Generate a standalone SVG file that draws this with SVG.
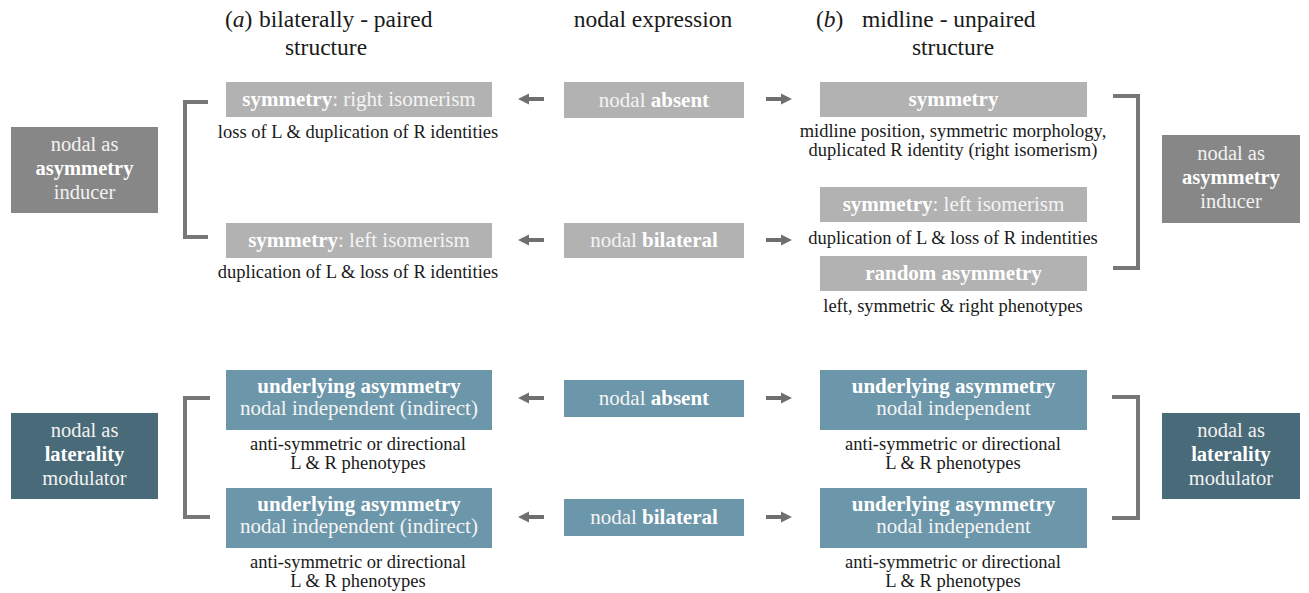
<svg xmlns="http://www.w3.org/2000/svg" width="1309" height="593" viewBox="0 0 1309 593" font-family="'Liberation Serif', 'Times New Roman', 'DejaVu Serif', serif">
<defs>
<style>
.hd{font-size:23.5px;fill:#1a1a1a;}
.hc{text-anchor:middle;}
.bx{font-size:21px;fill:#f4f4f4;text-anchor:middle;}
.cap{font-size:18.5px;fill:#1a1a1a;text-anchor:middle;}
.sd{font-size:20.5px;fill:#f2f2f2;text-anchor:middle;}
.b{font-weight:bold;fill:#ffffff;}
.g{fill:#b2b2b2;}
.gs{fill:#878787;}
.t{fill:#6c96aa;}
.ts{fill:#496a78;}
.br{fill:none;stroke:#777777;stroke-width:4;}
</style>
<marker id="ah" viewBox="0 0 10 10" refX="1" refY="5" markerWidth="2.8" markerHeight="3" orient="auto-start-reverse" markerUnits="strokeWidth">
<path d="M0,0 L10,5 L0,10 z" fill="#6f6f6f"/>
</marker>
</defs>
<rect width="1309" height="593" fill="#ffffff"/>

<g id="headers">
<text class="hd" x="225" y="27">(<tspan font-style="italic">a</tspan>)<tspan x="259">bilaterally - paired</tspan></text>
<text class="hd hc" x="326" y="55">structure</text>
<text class="hd hc" x="653" y="27">nodal expression</text>
<text class="hd" x="816" y="27">(<tspan font-style="italic">b</tspan>)<tspan x="862">midline - unpaired</tspan></text>
<text class="hd hc" x="953" y="55">structure</text>
</g>

<g id="side-tl">
<rect class="gs" x="11" y="127" width="147" height="86"/>
<text class="sd" x="84.5" y="151">nodal as</text>
<text class="sd" x="84.5" y="175"><tspan class="b">asymmetry</tspan></text>
<text class="sd" x="84.5" y="199">inducer</text>
</g>
<g id="side-tr">
<rect class="gs" x="1162" y="135" width="138" height="88"/>
<text class="sd" x="1231" y="160">nodal as</text>
<text class="sd" x="1231" y="184"><tspan class="b">asymmetry</tspan></text>
<text class="sd" x="1231" y="208">inducer</text>
</g>
<g id="side-bl">
<rect class="ts" x="11" y="413" width="147" height="86"/>
<text class="sd" x="84.5" y="437">nodal as</text>
<text class="sd" x="84.5" y="461"><tspan class="b">laterality</tspan></text>
<text class="sd" x="84.5" y="485">modulator</text>
</g>
<g id="side-br">
<rect class="ts" x="1162" y="413" width="138" height="86"/>
<text class="sd" x="1231" y="437">nodal as</text>
<text class="sd" x="1231" y="461"><tspan class="b">laterality</tspan></text>
<text class="sd" x="1231" y="485">modulator</text>
</g>

<g id="a-right-iso">
<rect class="g" x="226" y="82" width="266" height="35"/>
<text class="bx" x="359" y="106"><tspan class="b">symmetry</tspan>: right isomerism</text>
<text class="cap" x="358" y="138">loss of L &amp; duplication of R identities</text>
</g>
<g id="a-left-iso">
<rect class="g" x="226" y="223" width="266" height="35"/>
<text class="bx" x="359" y="247"><tspan class="b">symmetry</tspan>: left isomerism</text>
<text class="cap" x="358" y="278">duplication of L &amp; loss of R identities</text>
</g>
<g id="mid-absent-top">
<rect class="g" x="564" y="82" width="180" height="36"/>
<text class="bx" x="654" y="106.5">nodal <tspan class="b">absent</tspan></text>
</g>
<g id="mid-bilateral-top">
<rect class="g" x="564" y="223" width="180" height="35"/>
<text class="bx" x="654" y="247">nodal <tspan class="b">bilateral</tspan></text>
</g>
<g id="b-symmetry">
<rect class="g" x="820" y="82" width="267" height="35"/>
<text class="bx" x="953.5" y="106"><tspan class="b">symmetry</tspan></text>
<text class="cap" x="953" y="137">midline position, symmetric morphology,</text>
<text class="cap" x="953" y="156">duplicated R identity (right isomerism)</text>
</g>
<g id="b-left-iso">
<rect class="g" x="820" y="187" width="267" height="35"/>
<text class="bx" x="953.5" y="211"><tspan class="b">symmetry</tspan>: left isomerism</text>
<text class="cap" x="953" y="244">duplication of L &amp; loss of R indentities</text>
</g>
<g id="b-random">
<rect class="g" x="820" y="256" width="267" height="35"/>
<text class="bx" x="953.5" y="280"><tspan class="b">random asymmetry</tspan></text>
<text class="cap" x="953" y="312">left, symmetric &amp; right phenotypes</text>
</g>

<g id="a-under-1">
<rect class="t" x="226" y="370" width="266" height="60"/>
<text class="bx" x="359" y="393"><tspan class="b">underlying asymmetry</tspan></text>
<text class="bx" x="359" y="415">nodal independent (indirect)</text>
<text class="cap" x="358" y="450">anti-symmetric or directional</text>
<text class="cap" x="358" y="469">L &amp; R phenotypes</text>
</g>
<g id="a-under-2">
<rect class="t" x="226" y="488" width="266" height="60"/>
<text class="bx" x="359" y="511"><tspan class="b">underlying asymmetry</tspan></text>
<text class="bx" x="359" y="533">nodal independent (indirect)</text>
<text class="cap" x="358" y="568">anti-symmetric or directional</text>
<text class="cap" x="358" y="587">L &amp; R phenotypes</text>
</g>
<g id="mid-absent-bot">
<rect class="t" x="564" y="380" width="180" height="37"/>
<text class="bx" x="654" y="405">nodal <tspan class="b">absent</tspan></text>
</g>
<g id="mid-bilateral-bot">
<rect class="t" x="564" y="499" width="180" height="37"/>
<text class="bx" x="654" y="524">nodal <tspan class="b">bilateral</tspan></text>
</g>
<g id="b-under-1">
<rect class="t" x="820" y="370" width="267" height="60"/>
<text class="bx" x="953.5" y="393"><tspan class="b">underlying asymmetry</tspan></text>
<text class="bx" x="953.5" y="415">nodal independent</text>
<text class="cap" x="953" y="450">anti-symmetric or directional</text>
<text class="cap" x="953" y="469">L &amp; R phenotypes</text>
</g>
<g id="b-under-2">
<rect class="t" x="820" y="488" width="267" height="60"/>
<text class="bx" x="953.5" y="511"><tspan class="b">underlying asymmetry</tspan></text>
<text class="bx" x="953.5" y="533">nodal independent</text>
<text class="cap" x="953" y="568">anti-symmetric or directional</text>
<text class="cap" x="953" y="587">L &amp; R phenotypes</text>
</g>

<g id="connectors">
<g stroke="#6f6f6f" stroke-width="4" fill="none">
<line x1="544" y1="99" x2="528" y2="99" marker-end="url(#ah)"/>
<line x1="766" y1="99" x2="782" y2="99" marker-end="url(#ah)"/>
<line x1="544" y1="240" x2="528" y2="240" marker-end="url(#ah)"/>
<line x1="766" y1="240" x2="782" y2="240" marker-end="url(#ah)"/>
<line x1="544" y1="398" x2="528" y2="398" marker-end="url(#ah)"/>
<line x1="766" y1="398" x2="782" y2="398" marker-end="url(#ah)"/>
<line x1="544" y1="517" x2="528" y2="517" marker-end="url(#ah)"/>
<line x1="766" y1="517" x2="782" y2="517" marker-end="url(#ah)"/>
</g>
<path class="br" d="M208,102 H185 V237 H208"/>
<path class="br" d="M1113,96 H1138 V268 H1113"/>
<path class="br" d="M210,398 H185 V517 H210"/>
<path class="br" d="M1112,397 H1138 V518 H1112"/>
</g>
</svg>
